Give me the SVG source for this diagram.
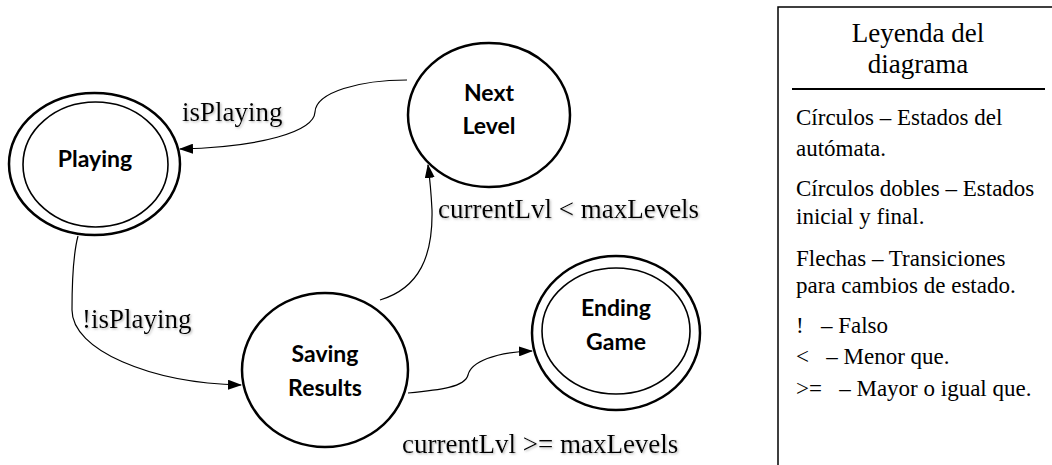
<svg xmlns="http://www.w3.org/2000/svg" width="1052" height="465" viewBox="0 0 1052 465">
<defs>
<style>
.state{fill:#fff;stroke:#000;stroke-width:2.5}
.inner{fill:none;stroke:#000;stroke-width:1.6}
.nlabel{font-family:Lato,"Open Sans",sans-serif;font-weight:bold;font-size:23px;fill:#000;text-anchor:middle}
.edge{fill:none;stroke:#000;stroke-width:1.2}
.elabel{font-family:"Liberation Serif","Times New Roman",serif;font-size:27px;fill:#000;filter:url(#shadow)}
.legend{font-family:"Liberation Serif","Times New Roman",serif;font-size:23px;fill:#000}
.ltitle{font-family:"Liberation Serif","Times New Roman",serif;font-size:27px;fill:#000;text-anchor:middle}
</style>
<marker id="arrow" markerWidth="14" markerHeight="10" refX="13" refY="5" orient="auto" markerUnits="userSpaceOnUse">
<path d="M0,0 L14,5 L0,10 Z" fill="#000"/>
</marker>
<filter id="shadow" x="-10%" y="-30%" width="130%" height="160%">
<feDropShadow dx="1.2" dy="1.2" stdDeviation="0.8" flood-color="#888" flood-opacity="0.6"/>
</filter>
</defs>
<rect width="1052" height="465" fill="#fff"/>

<g id="connectors">
<path class="edge" d="M407,80 C360,80 316,92 315,112 C314,132 260,147 180,149" marker-end="url(#arrow)"/>
<path class="edge" d="M78,236 C73,255 72,280 72,310 C72,350 150,383 241,385" marker-end="url(#arrow)"/>
<path class="edge" d="M380,300 C420,288 433,255 432,210 C431,190 430,180 428,165" marker-end="url(#arrow)"/>
<path class="edge" d="M408,393 C440,390 465,387 468,375 C471,362 495,352 532,351" marker-end="url(#arrow)"/>
<text class="elabel" x="182" y="121">isPlaying</text>
<text class="elabel" x="82" y="328">!isPlaying</text>
<text class="elabel" x="438" y="218">currentLvl &lt; maxLevels</text>
<text class="elabel" x="402" y="453">currentLvl &gt;= maxLevels</text>
</g>

<g id="playing">
<ellipse class="state" cx="94.5" cy="164" rx="85.5" ry="71"/>
<ellipse class="inner" cx="95.5" cy="164.5" rx="72.5" ry="62.5"/>
<text class="nlabel" x="95" y="167">Playing</text>
</g>

<g id="next-level">
<ellipse class="state" cx="489" cy="115" rx="81" ry="72"/>
<text class="nlabel" x="489" y="101">Next</text>
<text class="nlabel" x="489" y="134">Level</text>
</g>

<g id="saving-results">
<ellipse class="state" cx="325" cy="370" rx="83" ry="77"/>
<text class="nlabel" x="325" y="362">Saving</text>
<text class="nlabel" x="325" y="396">Results</text>
</g>

<g id="ending-game">
<ellipse class="state" cx="616" cy="333" rx="84" ry="77"/>
<ellipse class="inner" cx="616" cy="331" rx="74" ry="63"/>
<text class="nlabel" x="616" y="316">Ending</text>
<text class="nlabel" x="616" y="350">Game</text>
</g>

<g id="legend">
<rect x="778" y="7" width="300" height="480" fill="none" stroke="#000" stroke-width="1.5"/>
<text class="ltitle" x="918" y="42">Leyenda del</text>
<text class="ltitle" x="918" y="73">diagrama</text>
<line x1="792" y1="89" x2="1045" y2="89" stroke="#000" stroke-width="2"/>
<text class="legend" x="796" y="125">Círculos – Estados del</text>
<text class="legend" x="796" y="156">autómata.</text>
<text class="legend" x="796" y="196">Círculos dobles – Estados</text>
<text class="legend" x="796" y="224">inicial y final.</text>
<text class="legend" x="796" y="266">Flechas – Transiciones</text>
<text class="legend" x="796" y="293">para cambios de estado.</text>
<text class="legend" x="796" y="333" xml:space="preserve">!   – Falso</text>
<text class="legend" x="796" y="364" xml:space="preserve">&lt;   – Menor que.</text>
<text class="legend" x="796" y="396" xml:space="preserve">&gt;=   – Mayor o igual que.</text>
</g>
</svg>
